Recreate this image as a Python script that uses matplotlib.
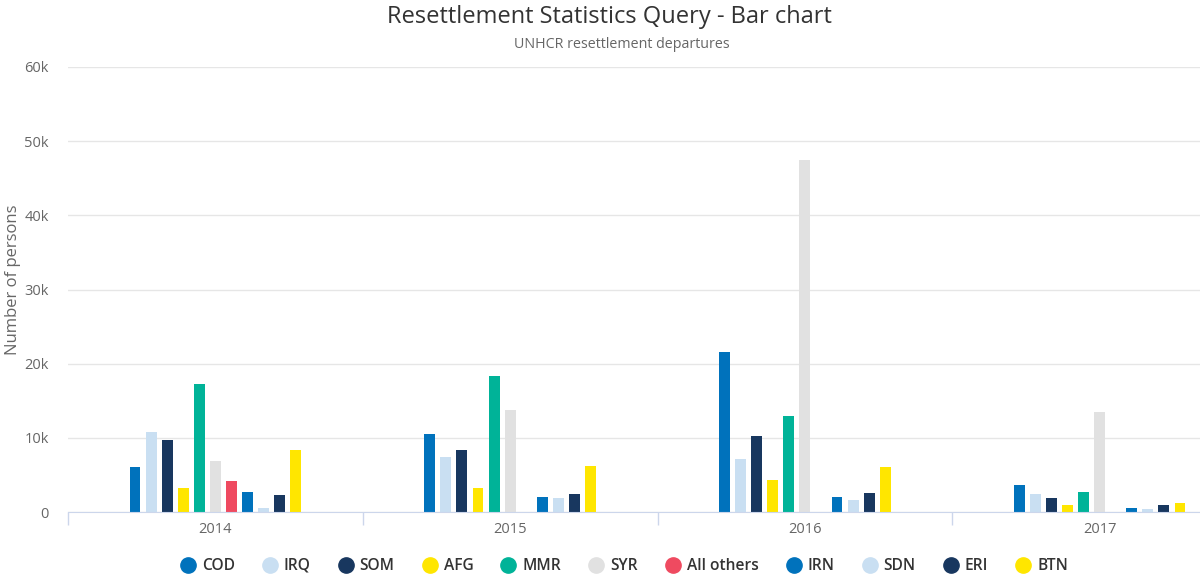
import numpy as np
import matplotlib.pyplot as plt
from matplotlib.lines import Line2D

years = ['2014', '2015', '2016', '2017']
series = ['COD', 'IRQ', 'SOM', 'AFG', 'MMR', 'SYR', 'All others', 'IRN', 'SDN', 'ERI', 'BTN']
colors = ['#0072BC', '#C9DFF2', '#18375F', '#FFE600', '#00B398', '#E1E1E1', '#EF4A60',
          '#0072BC', '#C9DFF2', '#18375F', '#FFE600']

cod = [6100, 10500, 21600, 3600]
irq = [10800, 7450, 7100, 2400]
som = [9700, 8300, 10300, 1900]
afg = [3200, 3200, 4300, 950]
mmr = [17300, 18300, 13000, 2700]
syr = [6900, 13700, 47500, 13500]
others = [4200, np.nan, np.nan, np.nan]
irn = [2700, 2050, 2000, 500]
sdn = [500, 1900, 1600, 450]
eri = [2250, 2400, 2550, 950]
btn = [8300, 6200, 6100, 1250]
values = [cod, irq, som, afg, mmr, syr, others, irn, sdn, eri, btn]

fig = plt.figure(figsize=(12, 5.82), dpi=100)
# plot area runs past the right edge (reference is cropped)
ax = fig.add_axes([68/1200, 70/582, (1247-68)/1200, 445/582])

x = np.arange(len(years))
n = len(series)
slot = 0.6 / n
for i, (name, vals, c) in enumerate(zip(series, values, colors)):
    pos = x - 0.3 + slot * (i + 0.5)
    ax.bar(pos, vals, width=slot * 0.68, color=c, zorder=3)

ax.set_xlim(-0.5, 3.5)
ax.set_ylim(0, 60000)
ax.set_yticks(np.arange(0, 60001, 10000))
ax.set_yticklabels(['0', '10k', '20k', '30k', '40k', '50k', '60k'])
ax.grid(axis='y', color='#e6e6e6', linewidth=1, zorder=0)
ax.set_xticks(x)
ax.set_xticklabels(years)
ax.set_xticks(np.arange(-0.5, 4, 1), minor=True)
ax.tick_params(axis='x', which='major', length=0, pad=7, labelsize=10.5, labelcolor='#666666')
ax.tick_params(axis='x', which='minor', length=9, color='#ccd6eb', width=1)
ax.tick_params(axis='y', length=0, pad=14, labelsize=10.5, labelcolor='#666666')
for s in ['top', 'right', 'left']:
    ax.spines[s].set_visible(False)
ax.spines['bottom'].set_color('#ccd6eb')
ax.spines['bottom'].set_zorder(4)

for lab in ax.get_xticklabels() + ax.get_yticklabels():
    lab.set_family('Open Sans')

fig.text(13/1200, 1 - 280/582, 'Number of persons', rotation=90, ha='center', va='center',
         fontsize=12, color='#666666', family='Open Sans')
fig.text(609/1200, 1 - 17/582, 'Resettlement Statistics Query - Bar chart', ha='center', va='center',
         fontsize=17, color='#333333', family='Open Sans')
fig.text(622/1200, 1 - 45/582, 'UNHCR resettlement departures', ha='center', va='center',
         fontsize=10.3, color='#666666', family='Open Sans')

handles = [Line2D([], [], marker='o', linestyle='', markersize=11, color=c) for c in colors]
leg = fig.legend(handles, series, loc='center', bbox_to_anchor=(624/1200, 1 - 566/582), ncol=n,
                 frameon=False, handletextpad=0.4, columnspacing=1.75, handlelength=1.0,
                 prop={'family': 'Open Sans', 'size': 11.2, 'weight': 'semibold'})
for t in leg.get_texts():
    t.set_color('#333333')

fig.savefig('out.png', dpi=100)
